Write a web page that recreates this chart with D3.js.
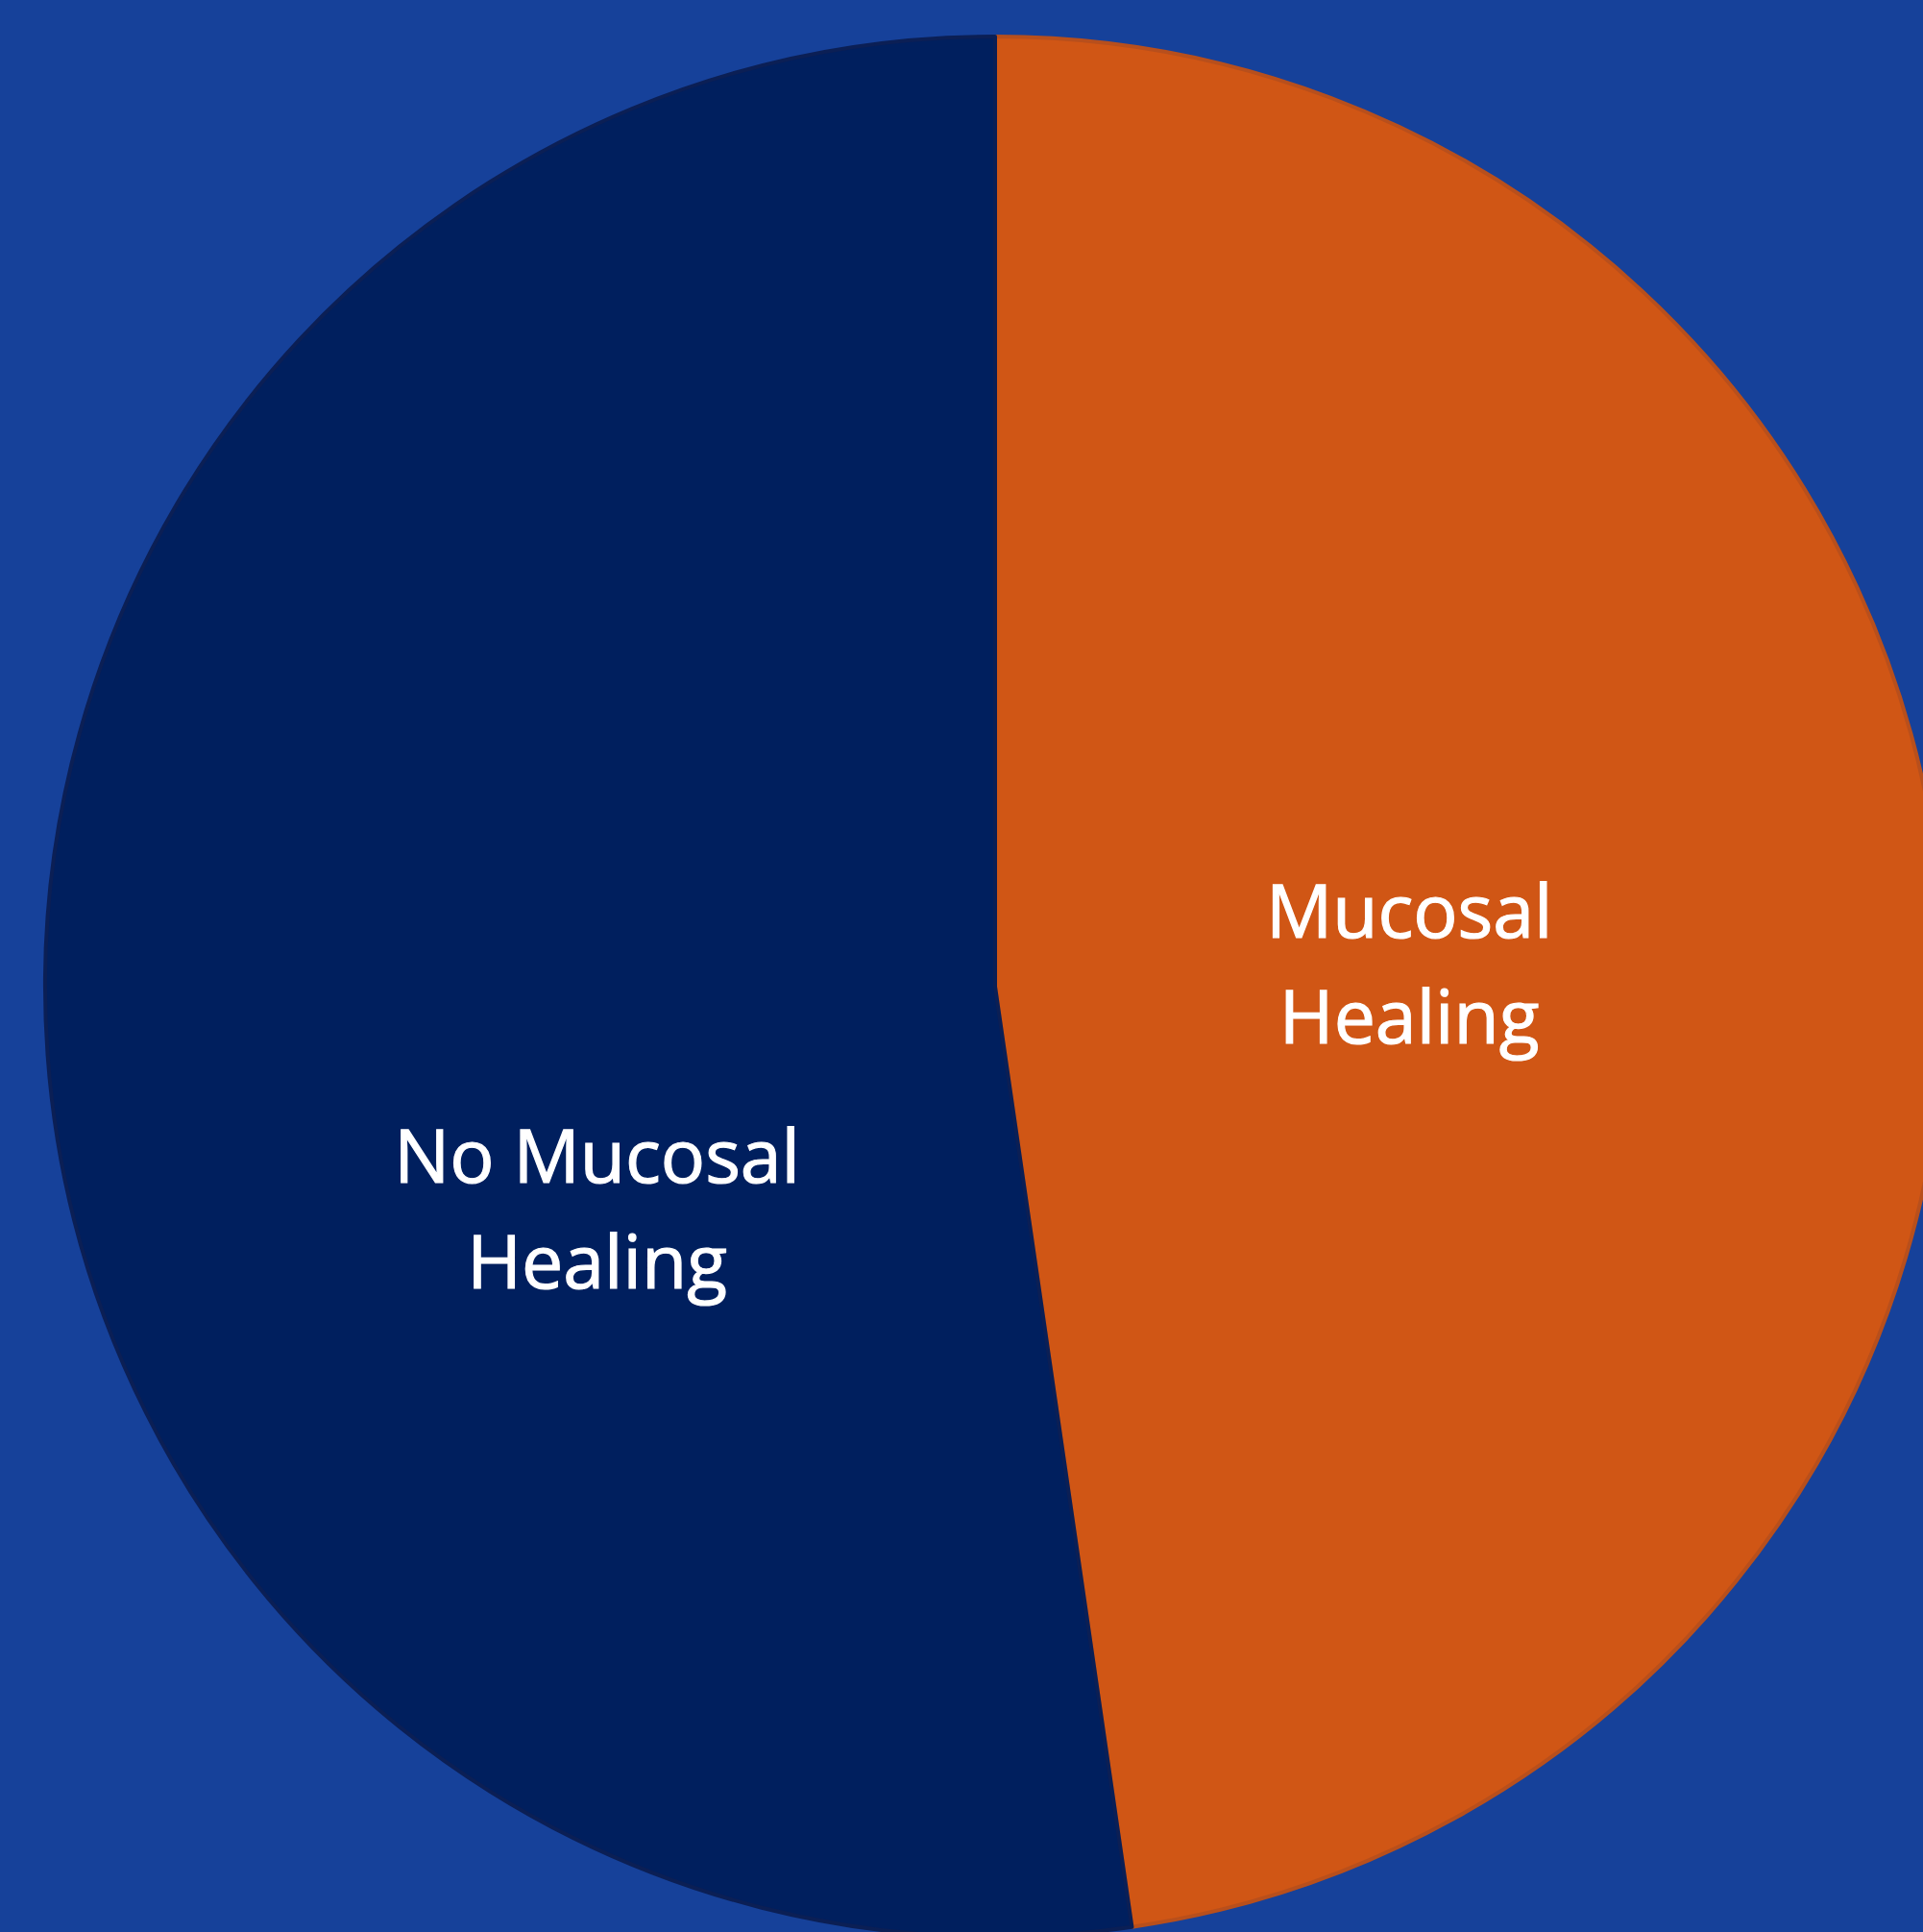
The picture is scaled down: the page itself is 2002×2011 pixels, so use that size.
<!DOCTYPE html>
<html>
<head>
<meta charset="utf-8">
<script src="https://cdn.jsdelivr.net/npm/d3@7"></script>
<style>
  html, body { margin: 0; padding: 0; background: #16419a; }
  svg { display: block; }
</style>
</head>
<body>
<div id="chart"></div>
<script>
// slice data (percent of patients)
var categories = ["Mucosal Healing", "No Mucosal Healing"];
var values = [47.7, 52.3];
var labelLines = [["Mucosal", "Healing"], ["No Mucosal", "Healing"]];

var width = 2002, height = 2011,
    cx = 1036, cy = 1027, radius = 989;

var color = d3.scaleOrdinal()
    .domain(categories)
    .range(["#d05615", "#001f5e"]);

var stroke = d3.scaleOrdinal()
    .domain(categories)
    .range(["#b84f1c", "#0b1f55"]);

// label placement as fraction of radius (dx, dy from centre)
var labelOffset = [[0.436, -0.052], [-0.419, 0.206]];

var svg = d3.select("#chart").append("svg")
    .attr("width", width)
    .attr("height", height);

svg.append("rect")
    .attr("width", width)
    .attr("height", height)
    .attr("fill", "#16419a");

var pie = d3.pie().sort(null).value(function (d) { return d.value; });
var arc = d3.arc().innerRadius(0).outerRadius(radius);

var data = categories.map(function (c, i) { return { name: c, value: values[i], lines: labelLines[i] }; });

var g = svg.append("g").attr("transform", "translate(" + cx + "," + cy + ")");

var slices = g.selectAll(".slice")
    .data(pie(data))
    .enter()
    .append("g")
    .attr("class", "slice");

slices.append("path")
    .attr("d", arc)
    .attr("fill", function (d) { return color(d.data.name); })
    .attr("stroke", function (d) { return stroke(d.data.name); })
    .attr("stroke-width", 4)
    .attr("stroke-linejoin", "round");

slices.append("text")
    .attr("text-anchor", "middle")
    .attr("fill", "#ffffff")
    .attr("stroke", "#ffffff")
    .attr("stroke-width", 1.2)
    .style("font-family", "'Open Sans', sans-serif")
    .style("font-size", "77px")
    .attr("transform", function (d) {
        var o = labelOffset[d.index];
        return "translate(" + (o[0] * radius) + "," + (o[1] * radius) + ")";
    })
    .selectAll("tspan")
    .data(function (d) { return d.data.lines; })
    .enter()
    .append("tspan")
    .attr("x", 0)
    .attr("y", function (d, i) { return i * 110; })
    .text(function (d) { return d; });
</script>
</body>
</html>
